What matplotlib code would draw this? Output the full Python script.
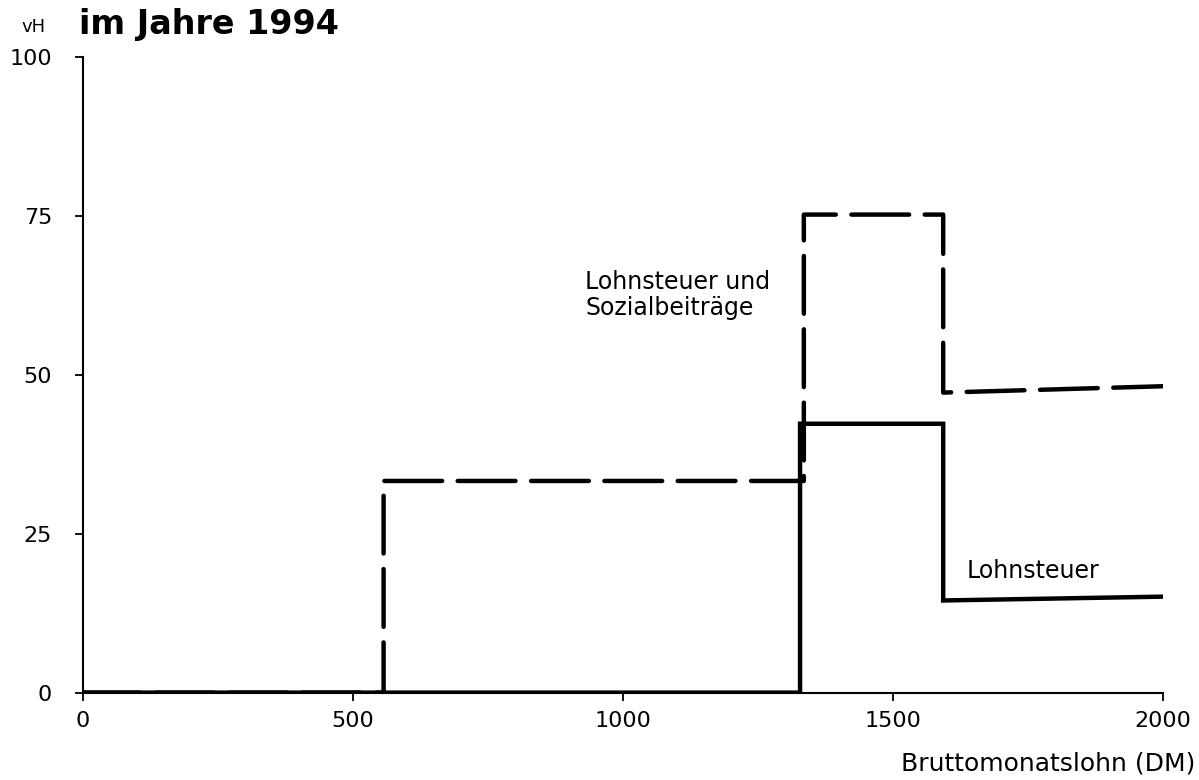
import matplotlib
matplotlib.use("Agg")
import matplotlib.pyplot as plt

# =========================================================
# Data
# =========================================================
lohn_x = [0, 1328, 1328, 1593, 1593, 2000]
lohn_y = [0, 0, 42.3, 42.3, 14.5, 15.1]

gesamt_x = [0, 557, 557, 1335, 1335, 1593, 1593, 2000]
gesamt_y = [0, 0, 33.3, 33.3, 75.2, 75.2, 47.2, 48.2]

x_ticks = [0, 500, 1000, 1500, 2000]
y_ticks = [0, 25, 50, 75, 100]

# =========================================================
# Plot
# =========================================================
plt.rcParams["font.family"] = ["DejaVu Sans"]

fig = plt.figure(figsize=(11.99, 7.8), dpi=100)
ax = fig.add_axes([0.069, 0.112, 0.901, 0.815])

ax.plot(lohn_x, lohn_y, color="black", linewidth=3.2, solid_joinstyle="miter")
ax.plot(gesamt_x, gesamt_y, color="black", linewidth=3.2,
        dashes=(13, 3.5), dash_capstyle="round")

ax.set_xlim(0, 2000)
ax.set_ylim(0, 100)
ax.set_xticks(x_ticks)
ax.set_yticks(y_ticks)
ax.tick_params(axis="both", direction="out", length=6, width=1.3,
               labelsize=16)
ax.tick_params(axis="y", pad=16)
ax.tick_params(axis="x", pad=7)

for side in ["top", "right"]:
    ax.spines[side].set_visible(False)
for side in ["left", "bottom"]:
    ax.spines[side].set_linewidth(1.5)

# labels
ax.text(930, 66.5, "Lohnsteuer und\nSozialbeiträge", fontsize=17,
        ha="left", va="top", linespacing=1.1)
ax.text(1637, 17.2, "Lohnsteuer", fontsize=17, ha="left", va="bottom")

fig.text(0.997, 0.012, "Bruttomonatslohn (DM)", fontsize=18, ha="right")
fig.text(0.018, 0.965, "vH", fontsize=13, ha="left", va="center")
fig.text(0.066, 0.968, "im Jahre 1994", fontsize=24, fontweight="bold",
         ha="left", va="center")

fig.savefig("out.png", dpi=100)
